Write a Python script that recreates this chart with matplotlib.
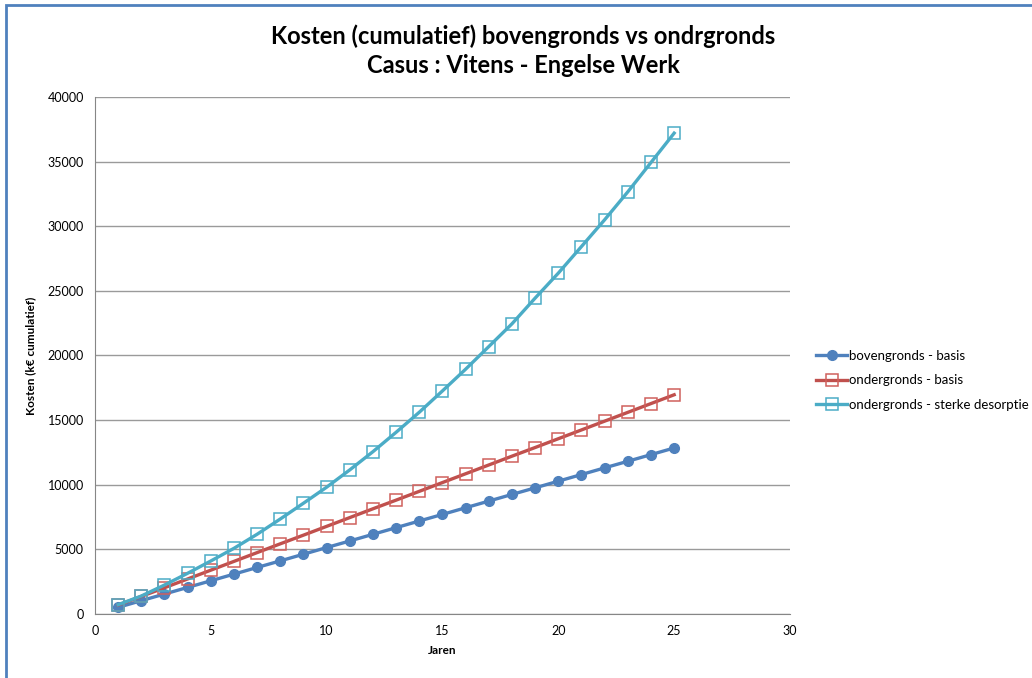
import matplotlib.pyplot as plt
from matplotlib.patches import Rectangle

plt.rcParams['font.family'] = ['Lato', 'DejaVu Sans']

jaren = list(range(1, 26))

bovengronds_basis = [515, 1030, 1545, 2055, 2570, 3085, 3600, 4110, 4625, 5140,
                     5650, 6165, 6680, 7195, 7705, 8220, 8735, 9250, 9760, 10275,
                     10790, 11305, 11815, 12330, 12845]
ondergronds_basis = [690, 1360, 2030, 2710, 3390, 4070, 4750, 5430, 6100, 6780,
                     7460, 8140, 8810, 9490, 10170, 10850, 11530, 12210, 12880, 13560,
                     14240, 14920, 15600, 16280, 16960]
ondergronds_desorptie = [720, 1390, 2240, 3150, 4100, 5080, 6170, 7350, 8570, 9810,
                         11150, 12560, 14060, 15610, 17260, 18940, 20690, 22450, 24440, 26370,
                         28430, 30500, 32660, 34930, 37200]

fig = plt.figure(figsize=(10.32, 6.78), dpi=100)
ax = fig.add_axes([0.092, 0.0944, 0.6735, 0.7626])

ax.plot(jaren, bovengronds_basis, color='#4F81BD', lw=2.4, marker='o', ms=7,
        label='bovengronds - basis')
ax.plot(jaren, ondergronds_basis, color='#C0504D', lw=2.4, marker='s', ms=8,
        mfc='none', mec='#D0605D', mew=1.1, label='ondergronds - basis')
ax.plot(jaren, ondergronds_desorptie, color='#4BACC6', lw=2.4, marker='s', ms=8,
        mfc='none', mec='#4BACC6', mew=1.1, label='ondergronds - sterke desorptie')

ax.set_xlim(0, 30)
ax.set_ylim(0, 40000)
ax.set_xticks(range(0, 31, 5))
ax.set_yticks(range(0, 40001, 5000))
ax.yaxis.grid(True, color='#9a9a9a', lw=1)
ax.set_axisbelow(True)
for s in ['top', 'right']:
    ax.spines[s].set_visible(False)
for s in ['left', 'bottom']:
    ax.spines[s].set_color('#868686')
ax.tick_params(length=0, labelsize=9, pad=8)

ax.set_xlabel('Jaren', fontsize=8.5, fontweight='bold', labelpad=6)
ax.set_ylabel('Kosten (k€ cumulatief)', fontsize=8.5, fontweight='bold', labelpad=8)

fig.text(0.507, 0.925, 'Kosten (cumulatief) bovengronds vs ondrgronds\nCasus : Vitens - Engelse Werk',
         ha='center', va='center', fontsize=17, fontweight='bold', linespacing=1.35)

ax.legend(loc='center left', bbox_to_anchor=(1.02, 0.452), frameon=False, fontsize=9.5,
          handlelength=2.4, handletextpad=0.1, labelspacing=0.95)

fig.patches.append(Rectangle((6 / 1032, -0.1), 1.2, 1.0 - 5 / 678 + 0.1, transform=fig.transFigure,
                             fill=False, edgecolor='#4F81BD', lw=2, zorder=10))

fig.savefig('out.png', dpi=100)
